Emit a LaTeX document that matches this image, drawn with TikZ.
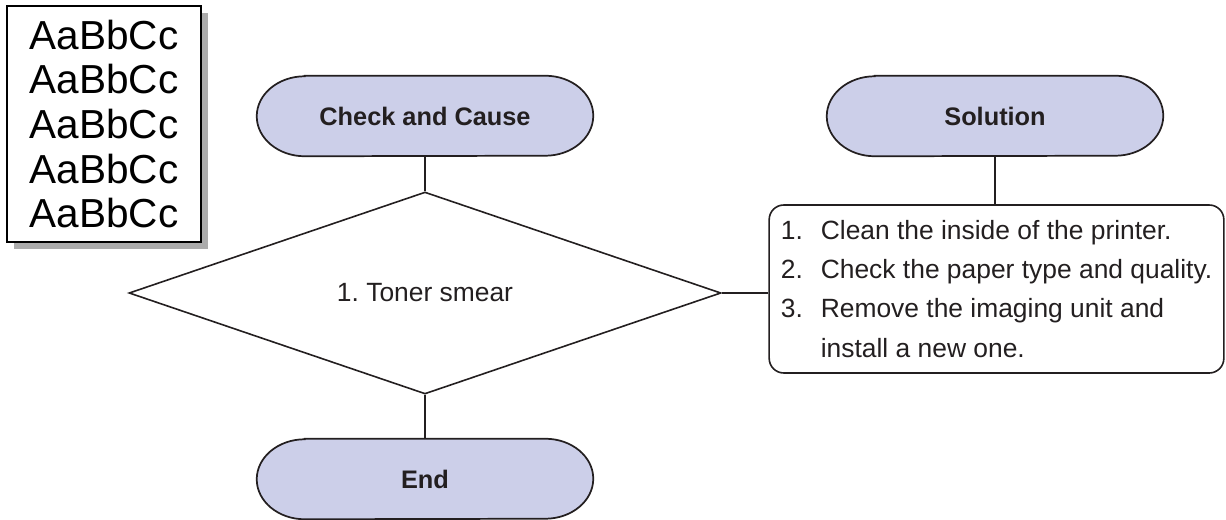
\documentclass[tikz,border=0pt]{standalone}
\usepackage{fontspec}
\setmainfont{Liberation Sans}
\usetikzlibrary{shapes.geometric,shadows,backgrounds}
\definecolor{inkgray}{RGB}{35,31,32}
\definecolor{termfill}{RGB}{204,207,233}
\definecolor{shadowgray}{RGB}{172,172,172}
\newcommand{\stepno}[1]{\makebox[30pt][l]{#1}}
\tikzset{
  term/.style={minimum width=252pt, minimum height=60pt, inner sep=0pt,
    font=\fontsize{19}{22}\selectfont\bfseries},
  termline/.style={draw=inkgray, line width=1.3pt, fill=termfill},
  link/.style={draw=inkgray, line width=1pt},
  body/.style={font=\fontsize{19.8}{29.3}\selectfont\frenchspacing},
}
\begin{document}
\begin{tikzpicture}[x=0.75pt, y=0.75pt, text=inkgray]
  \useasboundingbox (0,0) rectangle (1226,-520);
  \node[draw=black, line width=1pt, fill=white, text=black, inner sep=0pt,
    minimum width=145.5pt, minimum height=177pt, align=center,
    copy shadow={shadow xshift=5.6pt, shadow yshift=-5.6pt, fill=shadowgray, draw=none},
    font=\fontsize{30.4}{33.4}\selectfont] (page) at (104,-124)
    {AaBbCc\\AaBbCc\\AaBbCc\\AaBbCc\\AaBbCc};
  \node[term] (check) at (425,-116) {Check and Cause};
  \node[term] (sol) at (995,-116) {Solution};
  \node[term] (end) at (425,-479) {End};
  \node[diamond, draw=inkgray, line width=1.2pt, inner sep=0pt,
    minimum width=444pt, minimum height=151.5pt, body] (smear) at (425,-293)
    {1. Toner smear};
  \node[draw=inkgray, line width=1.2pt, rounded corners=11pt, inner xsep=7pt,
    minimum width=341pt, minimum height=126pt, align=left,
    body] (fix) at (996.5,-289)
    {\stepno{1.}Clean the inside of the printer.\\
     \stepno{2.}Check the paper type and quality.\\
     \stepno{3.}Remove the imaging unit and\\
     \stepno{}install a new one.};
  \begin{scope}[on background layer]
    \foreach \t in {check,sol,end}
      \filldraw[termline] ([xshift=36pt]\t.north west) -- ([xshift=-36pt]\t.north east)
        arc[start angle=90, end angle=-90, x radius=36pt, y radius=30pt]
        -- ([xshift=36pt]\t.south west)
        arc[start angle=270, end angle=90, x radius=36pt, y radius=30pt] -- cycle;
  \end{scope}
  \draw[link] (check) -- (smear);
  \draw[link] (smear) -- (end);
  \draw[link] (sol.south) -- (sol.south |- fix.north);
  \draw[link] (smear.east) -- (smear.east -| fix.west);
\end{tikzpicture}
\end{document}
